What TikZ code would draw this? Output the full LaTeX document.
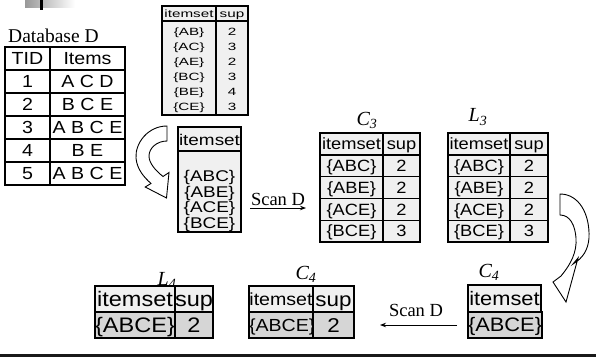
\documentclass[tikz,border=0pt]{standalone}
\usepackage{fontspec}
\setmainfont{Liberation Serif}
\newfontfamily\arialA[FakeStretch=1.12]{Liberation Sans}
\newfontfamily\arialB[FakeStretch=1.45]{Liberation Sans}
\newfontfamily\arialC[FakeStretch=1.22]{Liberation Sans}
\usetikzlibrary{arrows.meta}
\definecolor{cellgray}{HTML}{F0F0F0}
\definecolor{darkcell}{HTML}{D6D6D6}
\begin{document}
\begin{tikzpicture}[x=1pt,y=-1pt,
  cellbase/.style={draw=black, anchor=north west, inner sep=0pt, outer sep=0pt},
  dbcell/.style={cellbase, line width=1.5pt, fill=white, minimum height=23pt,
                 font=\arialA\fontsize{17.5}{18}\selectfont, text height=13.6pt, text depth=1.2pt},
  smallframe/.style={cellbase, line width=1.2pt, fill=cellgray},
  smalltext/.style={inner sep=0pt, font=\arialB\fontsize{10.5}{11}\selectfont, text height=8.2pt, text depth=0.8pt},
  candtext/.style={inner sep=0pt, font=\arialC\fontsize{15.5}{16}\selectfont, text height=12.2pt, text depth=1.1pt},
  ccell/.style={cellbase, line width=1.4pt, fill=cellgray, minimum height=21.8pt,
                font=\arialA\fontsize{16.3}{17}\selectfont, text height=12.7pt, text depth=1.2pt},
  bigcell/.style={cellbase, line width=1.3pt, font=\arialA\fontsize{21}{21}\selectfont,
                  text height=16.4pt, text depth=1.6pt},
  midcell/.style={cellbase, line width=1.3pt, font=\arialA\fontsize{17.5}{18}\selectfont,
                  text height=14.8pt, text depth=1.4pt},
  midcellb/.style={cellbase, line width=1.3pt, font=\arialA\fontsize{20}{20}\selectfont,
                  text height=15.6pt, text depth=1.6pt},
  rcell/.style={cellbase, line width=1.3pt, font=\arialA\fontsize{19.5}{20}\selectfont,
                  text height=15.2pt, text depth=1.5pt},
  lbl/.style={inner sep=0pt, font=\fontsize{20}{20}\selectfont\itshape},
  scanlbl/.style={inner sep=0pt, font=\fontsize{18.5}{19}\selectfont},
  scanarrow/.style={line width=0.9pt, -{Stealth[length=6pt,width=4.5pt]}},
  blockarrow/.style={draw=black, fill=white, line width=0.9pt, line join=miter}
]
\useasboundingbox (0,0) rectangle (596,357);

% top decoration
\shade[left color=black!40, right color=white] (25,0) rectangle (75,7);
\draw[line width=2.2pt] (41.5,0) -- (41.5,10);

% Database D
\node[anchor=base west, inner sep=0pt, font=\fontsize{19.5}{20}\selectfont] (dbtitle) at (8,42) {Database D};
\foreach \a/\b [count=\k from 0] in {TID/Items,1/A C D,2/B C E,3/A B C E,4/B E,5/A B C E}{
  \node[dbcell, minimum width=45pt] (db-l\k) at (5,{47+23*\k}) {\a};
  \node[dbcell, minimum width=75pt] (db-r\k) at (50,{47+23*\k}) {\b};
}

% top small table
\node[smallframe, minimum width=54pt, minimum height=15pt] (s-h1) at (162,6) {};
\node[smallframe, minimum width=32pt, minimum height=15pt] (s-h2) at (216,6) {};
\node[smallframe, minimum width=54pt, minimum height=94pt] (s-b1) at (162,21) {};
\node[smallframe, minimum width=32pt, minimum height=94pt] (s-b2) at (216,21) {};
\node[smalltext] (s-t1) at (189,13.5) {itemset};
\node[smalltext] (s-t2) at (232,13.5) {sup};
\foreach \a/\b [count=\k from 0] in {{\{AB\}}/2,{\{AC\}}/3,{\{AE\}}/2,{\{BC\}}/3,{\{BE\}}/4,{\{CE\}}/3}{
  \node[smalltext] (s-a\k) at (189,{31.5+15*\k}) {\a};
  \node[smalltext] (s-s\k) at (232,{31.5+15*\k}) {\b};
}

% candidate table
\node[smallframe, line width=1.4pt, minimum width=63pt, minimum height=24pt] (c-h) at (178,127) {};
\node[smallframe, line width=1.4pt, minimum width=63pt, minimum height=81pt] (c-b) at (178,151) {};
\node[candtext] (c-t) at (209.5,139.5) {itemset};
\foreach \a [count=\k from 0] in {{\{ABC\}},{\{ABE\}},{\{ACE\}},{\{BCE\}}}{
  \node[candtext] (c-r\k) at (209.5,{176+15.7*\k}) {\a};
}

% C3 and L3
\node[lbl] (c3lbl) at (367,120) {C\textsubscript{3}};
\node[lbl] (l3lbl) at (478,117) {L\textsubscript{3}};
\foreach \a/\b [count=\k from 0] in {itemset/sup,{\{ABC\}}/2,{\{ABE\}}/2,{\{ACE\}}/2,{\{BCE\}}/3}{
  \node[ccell, minimum width=63pt] (c3-l\k) at (320,{133+21.8*\k}) {\a};
  \node[ccell, minimum width=37pt] (c3-r\k) at (383,{133+21.8*\k}) {\b};
  \node[ccell, minimum width=62pt] (l3-l\k) at (448,{133+21.8*\k}) {\a};
  \node[ccell, minimum width=38pt] (l3-r\k) at (510,{133+21.8*\k}) {\b};
}

% Scan D (top)
\node[scanlbl] (scan1) at (278,199) {Scan D};
\coordinate (sa1) at (250,208);
\coordinate (sa2) at (306,208);
\draw[scanarrow] (sa1) -- (sa2);

% bottom row: L4
\node[lbl] (l4lbl) at (167,280) {L\textsubscript{4}};
\node[bigcell, fill=cellgray, minimum width=80pt, minimum height=26pt] (l4-h1) at (95,286) {itemset};
\node[bigcell, fill=cellgray, minimum width=38pt, minimum height=26pt] (l4-h2) at (175,286) {sup};
\node[bigcell, fill=darkcell, minimum width=80pt, minimum height=26pt] (l4-d1) at (95,312) {\{ABCE\}};
\node[bigcell, fill=darkcell, minimum width=38pt, minimum height=26pt] (l4-d2) at (175,312) {2};

% bottom row: C4 (middle)
\node[lbl] (c4lbl) at (306,274) {C\textsubscript{4}};
\node[midcell, fill=cellgray, minimum width=64pt, minimum height=26pt] (c4-h1) at (249,286) {itemset};
\node[midcellb, fill=cellgray, minimum width=41pt, minimum height=26pt] (c4-h2) at (313,286) {sup};
\node[midcell, fill=darkcell, minimum width=64pt, minimum height=26pt] (c4-d1) at (249,312) {\{ABCE\}};
\node[midcellb, fill=darkcell, minimum width=41pt, minimum height=26pt] (c4-d2) at (313,312) {2};

% bottom row: C4 (right)
\node[lbl] (c4blbl) at (489,272) {C\textsubscript{4}};
\node[rcell, fill=cellgray, minimum width=73pt, minimum height=27pt] (c4b-h) at (468,285) {itemset};
\node[rcell, fill=darkcell, minimum width=73pt, minimum height=26pt] (c4b-d) at (468,312) {\{ABCE\}};

% Scan D (bottom)
\node[scanlbl] (scan2) at (416,310) {Scan D};
\coordinate (sb1) at (457,325);
\coordinate (sb2) at (380,325);
\draw[scanarrow] (sb1) -- (sb2);

% left curved block arrow
\draw[blockarrow] (167,126) .. controls (148,126) and (135,143) .. (136,158)
  .. controls (137,170) and (145,178) .. (151,183.5)
  -- (145.2,187) -- (166.5,198) -- (169,172.5) -- (163,176.5)
  .. controls (155,170) and (149,163) .. (149,156)
  .. controls (149,148) and (157,141) .. (167,141) -- cycle;

% right curved block arrow
\draw[blockarrow] (560,194) .. controls (579,194) and (590,214) .. (589,238)
  .. controls (588,250) and (583,258) .. (573,264)
  -- (578,258) -- (566,302) -- (553,282) -- (561,276)
  .. controls (571,264) and (577,252) .. (576,238)
  .. controls (575,225) and (570,215) .. (560,215) -- cycle;

% bottom rule
\draw[line width=3pt, black!90] (0,355) -- (596,355);
\end{tikzpicture}
\end{document}
